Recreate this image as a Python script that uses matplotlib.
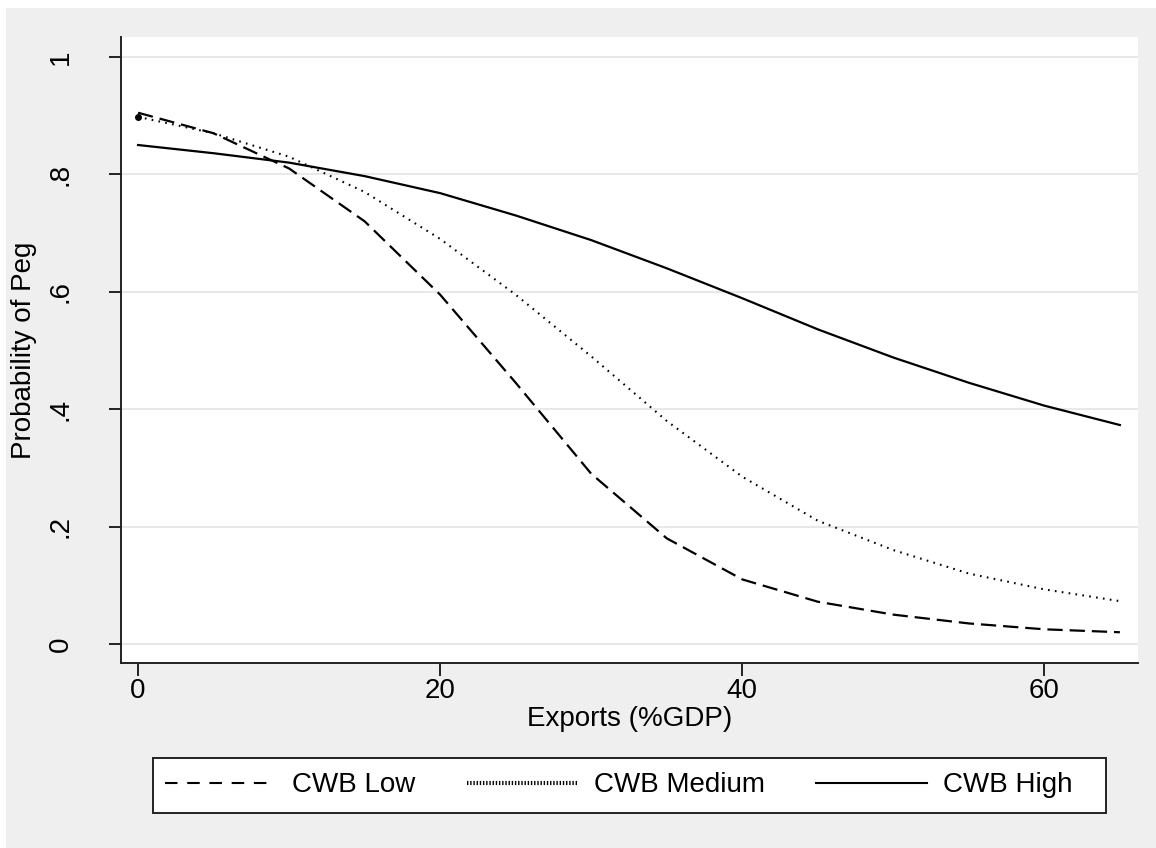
import matplotlib
matplotlib.use("Agg")
import matplotlib.pyplot as plt
from matplotlib.patches import Rectangle

plt.rcParams['font.family'] = ['Liberation Sans', 'DejaVu Sans']
plt.rcParams['lines.scale_dashes'] = False

exports = [0, 5, 10, 15, 20, 25, 30, 35, 40, 45, 50, 55, 60, 65]
cwb_low = [0.905, 0.87, 0.81, 0.72, 0.595, 0.445, 0.29, 0.18, 0.11, 0.072, 0.05, 0.035, 0.025, 0.02]
cwb_medium = [0.898, 0.87, 0.83, 0.77, 0.69, 0.595, 0.49, 0.38, 0.285, 0.21, 0.16, 0.12, 0.093, 0.073]
cwb_high = [0.85, 0.836, 0.82, 0.797, 0.768, 0.73, 0.688, 0.64, 0.589, 0.536, 0.488, 0.445, 0.406, 0.373]
series_labels = ["CWB Low", "CWB Medium", "CWB High"]
y_ticks = [0, 0.2, 0.4, 0.6, 0.8, 1.0]
y_ticklabels = ["0", ".2", ".4", ".6", ".8", "1"]
x_ticks = [0, 20, 40, 60]

FS = 20
W, H = 1156, 848
fig = plt.figure(figsize=(W / 100, H / 100), dpi=100, facecolor="white")
fig.patches.append(Rectangle((6 / W, 0), 1 - 6 / W, 1 - 8 / H, transform=fig.transFigure,
                             facecolor="#efefef", edgecolor="none", zorder=-10))
# legend frame
fig.patches.append(Rectangle((153 / W, 1 - 813 / H), (1106 - 153) / W, (813 - 758) / H,
                             transform=fig.transFigure, facecolor="white",
                             edgecolor="#222222", lw=1.4, zorder=-5))

ax = fig.add_axes([121 / W, 1 - 663 / H, (1138 - 121) / W, (663 - 37) / H])
ax.set_facecolor("white")

l1, = ax.plot(exports, cwb_low, color="black", lw=1.6, linestyle=(0, (11, 5)), label=series_labels[0])
l2, = ax.plot(exports, cwb_medium, color="black", lw=1.5, linestyle=(0, (1.2, 3.8)), label=series_labels[1])
ax.plot(exports[:1], cwb_medium[:1], "o", color="black", ms=4)
l3, = ax.plot(exports, cwb_high, color="black", lw=1.6, linestyle="-", label=series_labels[2])

ax.set_xlim(-1.13, 66.2)
ax.set_ylim(-0.0324, 1.034)
ax.set_yticks(y_ticks)
ax.set_yticklabels(y_ticklabels, rotation=90, va="center")
ax.set_xticks(x_ticks)
ax.grid(axis="y", color="#e8e8e8", lw=1.5)
ax.set_axisbelow(True)
for s in ["top", "right"]:
    ax.spines[s].set_visible(False)
for s in ["left", "bottom"]:
    ax.spines[s].set_color("#222222")
    ax.spines[s].set_linewidth(1.4)
ax.tick_params(axis="both", length=9, width=1.4, color="#222222", labelsize=FS, pad=2)
ax.tick_params(axis="y", pad=25)
ax.set_xlabel("Exports (%GDP)", fontsize=FS, labelpad=1)
ax.set_ylabel("Probability of Peg", fontsize=FS, labelpad=8)

leg_handles = [plt.Line2D([], [], color="black", lw=1.5, linestyle=(0, (9, 7))),
               plt.Line2D([], [], color="black", lw=3, linestyle=(0, (1.0, 1.3))),
               plt.Line2D([], [], color="black", lw=1.5, linestyle="-")]
leg = fig.legend(leg_handles, series_labels, loc="center left",
                 bbox_to_anchor=(165 / W, 1 - 785.5 / H),
                 ncol=3, fontsize=FS, frameon=False,
                 handlelength=4.0, borderpad=0.0, columnspacing=1.85, handletextpad=0.57,
                 borderaxespad=0)

fig.savefig("out.png", dpi=100, facecolor="white")
